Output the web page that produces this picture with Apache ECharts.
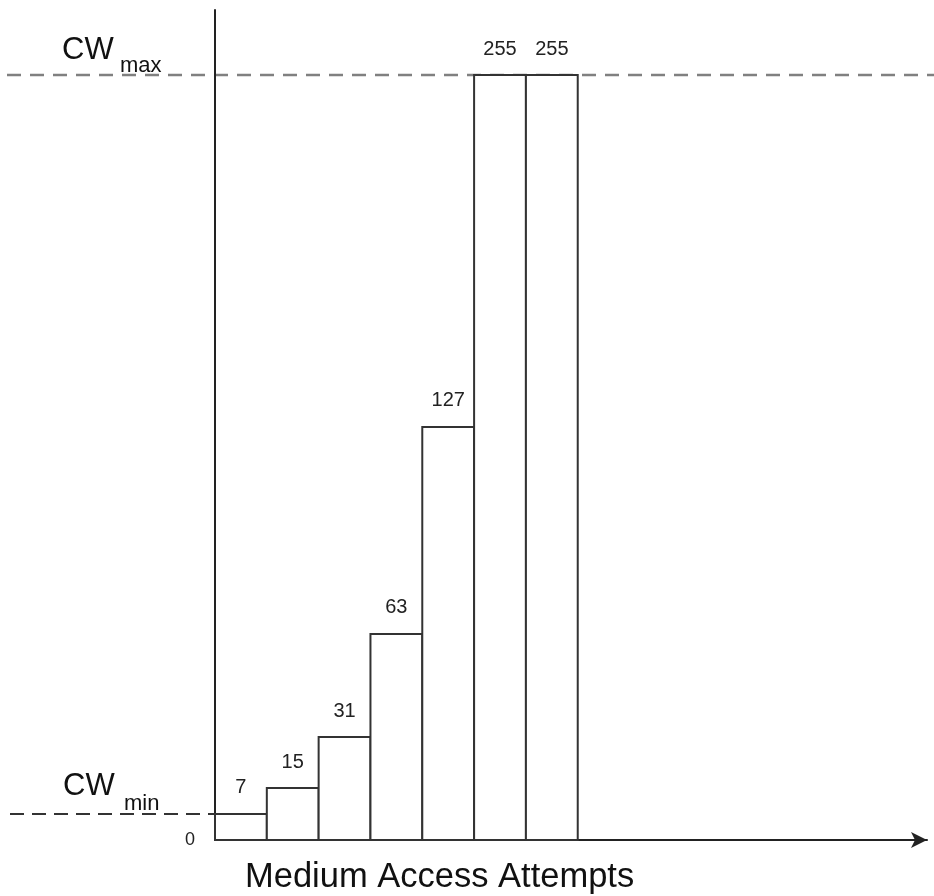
<!DOCTYPE html>
<html>
<head>
<meta charset="utf-8">
<script src="https://cdn.jsdelivr.net/npm/echarts@6/dist/echarts.min.js"></script>
<style>
html,body{margin:0;padding:0;background:#fff;}
#chart{width:934px;height:896px;}
</style>
</head>
<body>
<div id="chart"></div>
<script>
// Contention window values printed above each medium access attempt
const windowLabels = [7, 15, 31, 63, 127, 255, 255];
// Bar heights as drawn in the figure (figure units, CWmax = 255; figure is not to scale)
const drawnHeights = [8.7, 17.3, 34.3, 68.7, 137.7, 255, 255];
// Attempt slots (x positions of bars on the attempts axis)
const attempts = [0, 1, 2, 3, 4, 5, 6];
const yTickLabels = ['0'];
const xAxisTitle = 'Medium Access Attempts';
const cwMaxHeight = 255;
const cwMinHeight = drawnHeights[0];

const FONT = '"Liberation Sans", Arial, Helvetica, sans-serif';
const chart = echarts.init(document.getElementById('chart'), null, {renderer: 'canvas'});

const data = attempts.map((a, i) => [a, drawnHeights[i], windowLabels[i]]);

chart.setOption({
  animation: false,
  backgroundColor: '#ffffff',
  grid: {left: 215, right: 7, top: 10, bottom: 56, containLabel: false},
  xAxis: {
    type: 'value', min: 0, max: 13.74,
    axisLine: {show: true, lineStyle: {color: '#222', width: 2}, symbol: ['none', 'arrow'], symbolSize: [12, 16]},
    axisTick: {show: false}, axisLabel: {show: false}, splitLine: {show: false}
  },
  yAxis: {
    type: 'value', min: 0, max: 276.7,
    axisLine: {show: true, lineStyle: {color: '#222', width: 2}},
    axisTick: {show: false}, splitLine: {show: false},
    axisLabel: {
      show: true, margin: 20, fontSize: 18, color: '#222', fontFamily: FONT,
      customValues: [0],
      formatter: v => (v === 0 ? yTickLabels[0] : '')
    }
  },
  series: [{
    type: 'custom',
    data: data,
    clip: false,
    renderItem: function (params, api) {
      const i = api.value(0), h = api.value(1), lab = api.value(2);
      const p0 = api.coord([i, h]);
      const p1 = api.coord([i + 1, 0]);
      return {
        type: 'group',
        children: [
          {type: 'rect', shape: {x: p0[0], y: p0[1], width: p1[0] - p0[0], height: p1[1] - p0[1]},
           style: {fill: '#ffffff', stroke: '#333', lineWidth: 2}},
          {type: 'text', style: {text: String(lab), x: (p0[0] + p1[0]) / 2, y: p0[1] - 26,
            align: 'center', verticalAlign: 'middle', font: '20px ' + FONT, fill: '#222'}}
        ]
      };
    }
  }]
});

const yMax = chart.convertToPixel({gridIndex: 0}, [0, cwMaxHeight])[1];
const yMin = chart.convertToPixel({gridIndex: 0}, [0, cwMinHeight])[1];
const origin = chart.convertToPixel({gridIndex: 0}, [0, 0]);

chart.setOption({
  graphic: [
    {type: 'line', z: 0, shape: {x1: 7, y1: yMax, x2: 934, y2: yMax},
     style: {stroke: '#808080', lineWidth: 2.5, lineDash: [14, 9]}},
    {type: 'line', z: 0, shape: {x1: 10, y1: yMin, x2: origin[0], y2: yMin},
     style: {stroke: '#333', lineWidth: 2, lineDash: [14, 8]}},
    {type: 'text', z: 10, style: {text: 'CW', x: 62, y: 35, verticalAlign: 'top', font: '31px ' + FONT, fill: '#111'}},
    {type: 'text', z: 10, style: {text: 'max', x: 120, y: 55, verticalAlign: 'top', font: '22px ' + FONT, fill: '#111'}},
    {type: 'text', z: 10, style: {text: 'CW', x: 63, y: 771, verticalAlign: 'top', font: '31px ' + FONT, fill: '#111'}},
    {type: 'text', z: 10, style: {text: 'min', x: 124, y: 793, verticalAlign: 'top', font: '22px ' + FONT, fill: '#111'}},
    {type: 'text', z: 10, style: {text: xAxisTitle, x: 245, y: 860, verticalAlign: 'top', font: '34.5px ' + FONT, fill: '#111'}}
  ]
});
</script>
</body>
</html>
